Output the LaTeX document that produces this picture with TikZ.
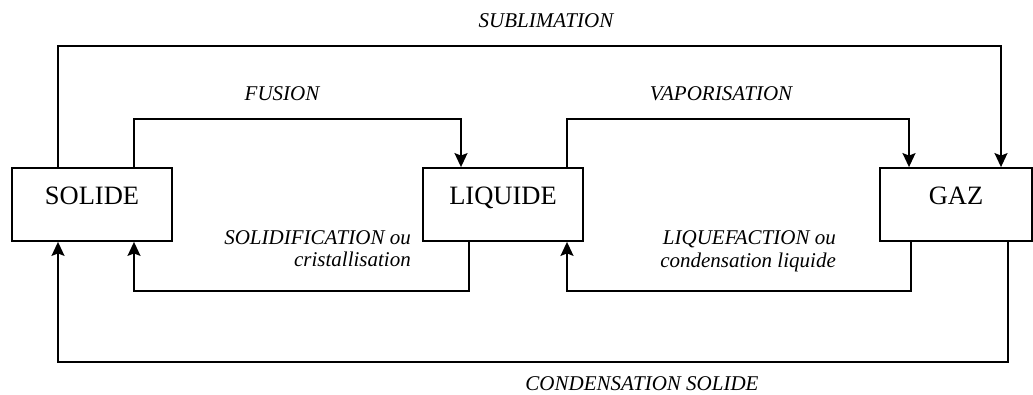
\documentclass[tikz,border=0pt]{standalone}
\usepackage{fontspec}
\setmainfont{Liberation Serif}
\usetikzlibrary{arrows.meta}
\begin{document}
\begin{tikzpicture}[x=1pt,y=-1pt,
  statebox/.style={draw,line width=1.8pt,inner sep=0pt,minimum height=73pt,
    text height=18pt,text depth=18pt,font=\fontsize{26.5}{30}\selectfont},
  conn/.style={line width=1.8pt,-{Stealth[length=14pt,width=13pt,inset=2.5pt]}},
  lab/.style={font=\fontsize{21}{25}\selectfont\itshape,inner sep=0pt}]
\useasboundingbox (0,0) rectangle (1033,395);
\node[statebox,minimum width=160pt] (solide) at (92,204.5) {SOLIDE};
\node[statebox,minimum width=160pt] (liquide) at (503,204.5) {LIQUIDE};
\node[statebox,minimum width=152pt] (gaz) at (956,204.5) {GAZ};
\draw[conn] ([xshift=-34pt]solide.north) -- ++(0,-121) -| ([xshift=45pt]gaz.north);
\draw[conn] ([xshift=42pt]solide.north) -- ++(0,-48) -| ([xshift=-42pt]liquide.north);
\draw[conn] ([xshift=64pt]liquide.north) -- ++(0,-48) -| ([xshift=-47pt]gaz.north);
\draw[conn] ([xshift=-34pt]liquide.south) -- ++(0,49) -| ([xshift=42pt]solide.south);
\draw[conn] ([xshift=-45pt]gaz.south) -- ++(0,49) -| ([xshift=64pt]liquide.south);
\draw[conn] ([xshift=52pt]gaz.south) -- ++(0,120) -| ([xshift=-34pt]solide.south);
\node[lab,anchor=base] (tsub) at (546,28) {SUBLIMATION};
\node[lab,anchor=base] (tfus) at (282,101) {FUSION};
\node[lab,anchor=base] (tvap) at (721,101) {VAPORISATION};
\node[lab,anchor=base east] (tsol1) at (411,245) {SOLIDIFICATION ou};
\node[lab,anchor=base east] (tsol2) at (411,267) {cristallisation};
\node[lab,anchor=base east] (tliq1) at (836,245) {LIQUEFACTION ou};
\node[lab,anchor=base east] (tliq2) at (836,268) {condensation liquide};
\node[lab,anchor=base] (tcon) at (642,390) {CONDENSATION SOLIDE};
\end{tikzpicture}
\end{document}
